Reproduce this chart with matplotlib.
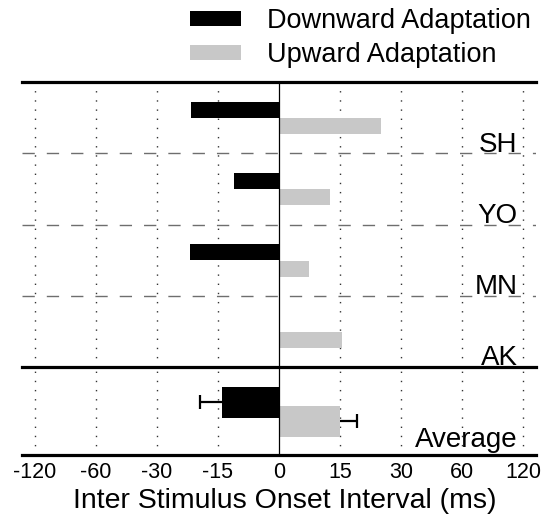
import numpy as np
import matplotlib
matplotlib.use("Agg")
import matplotlib.pyplot as plt
import matplotlib.transforms as mtransforms
from matplotlib.patches import Patch

plt.rcParams['font.family'] = ['Liberation Sans', 'DejaVu Sans']

# ---------------- data ----------------
subjects = ["SH", "YO", "MN", "AK"]
downward = [-21.6, -11.0, -21.8, 0.3]
upward = [25.0, 12.5, 7.5, 15.5]
avg_label = "Average"
avg_down = -13.9
avg_up = 14.9
avg_down_err = 5.6
avg_up_err = 4.2
tick_values = [-120, -60, -30, -15, 0, 15, 30, 60, 120]
tick_labels = ["-120", "-60", "-30", "-15", "0", "15", "30", "60", "120"]
legend_labels = ["Downward Adaptation", "Upward Adaptation"]
xlabel = "Inter Stimulus Onset Interval (ms)"

BLACK = "#000000"
GRAY = "#c8c8c8"

# piecewise-linear axis: ticks equally spaced
tv = np.array(tick_values, float)
ti = np.arange(len(tv)) - (len(tv) - 1) / 2.0


def fwd(x):
    x = np.asarray(x, float)
    y = np.interp(x, tv, ti)
    y = np.where(x > tv[-1], ti[-1] + (x - tv[-1]) / (tv[-1] - tv[-2]), y)
    y = np.where(x < tv[0], ti[0] + (x - tv[0]) / (tv[1] - tv[0]), y)
    return y


def inv(y):
    y = np.asarray(y, float)
    x = np.interp(y, ti, tv)
    x = np.where(y > ti[-1], tv[-1] + (y - ti[-1]) * (tv[-1] - tv[-2]), x)
    x = np.where(y < ti[0], tv[0] + (y - ti[0]) * (tv[1] - tv[0]), x)
    return x


W_PX, H_PX = 541, 521
fig = plt.figure(figsize=(W_PX / 100, H_PX / 100), dpi=100)

left_px, right_px = 22.4, 536.0
top_px, mid_px, bot_px = 82.3, 366.7, 455.0
L = left_px / W_PX
Wd = (right_px - left_px) / W_PX
ax_bot = fig.add_axes([L, 1 - bot_px / H_PX, Wd, (bot_px - mid_px) / H_PX])
ax_top = fig.add_axes([L, 1 - mid_px / H_PX, Wd, (mid_px - top_px) / H_PX])
ax_top.patch.set_visible(False)
ax_bot.patch.set_visible(False)

xlim = (float(inv(-4.2)), float(inv(4.21)))

for ax in (ax_top, ax_bot):
    ax.set_xscale('function', functions=(fwd, inv))
    ax.set_xlim(*xlim)
    ax.set_xticks(tick_values)
    for t in tick_values:
        if t != 0:
            ax.axvline(t, color="#333333", lw=1.0, dashes=(1.0, 5.6), zorder=1)
    ax.axvline(0, color="black", lw=0.9, zorder=3)
    ax.spines['left'].set_visible(False)
    ax.spines['right'].set_visible(False)
    ax.set_yticks([])
    ax.tick_params(axis='x', length=0, labelsize=15.5, pad=5)

# ---- top panel: individual subjects ----
n = len(subjects)
ax_top.set_ylim(n, 0)
idx = np.arange(n)
bh = 0.225
ax_top.barh(idx + 0.39, downward, height=bh, color=BLACK, zorder=2)
ax_top.barh(idx + 0.62, upward, height=bh, color=GRAY, zorder=2)
for k in range(1, n):
    ax_top.axhline(k, color="#6e6e6e", lw=1.0, dashes=(8.85, 8.65), zorder=1)
trans_top = mtransforms.blended_transform_factory(ax_top.transAxes, ax_top.transData)
for i, name in enumerate(subjects):
    ax_top.text(0.964, i + 1 - 0.025, name, transform=trans_top, ha='right',
                va='baseline', fontsize=20, zorder=4)
ax_top.tick_params(axis='x', labelbottom=False)
ax_top.spines['top'].set_linewidth(2.3)
ax_top.spines['bottom'].set_linewidth(2.3)

# ---- bottom panel: average ----
ax_bot.set_ylim(1, 0)
bh2 = 0.351
yd, yu = 0.403, 0.617
ax_bot.barh([yd], [avg_down], height=bh2, color=BLACK, zorder=2)
ax_bot.barh([yu], [avg_up], height=bh2, color=GRAY, zorder=2)
# one-sided error bars
ax_bot.hlines([yd], [avg_down - avg_down_err], [avg_down], color=BLACK, lw=1.6, zorder=3)
ax_bot.hlines([yu], [avg_up], [avg_up + avg_up_err], color=BLACK, lw=1.6, zorder=3)
ax_bot.plot([avg_down - avg_down_err, avg_up + avg_up_err], [yd, yu], ls='none',
            marker='|', ms=10.5, mew=1.6, color=BLACK, zorder=3)
ax_bot.text(0.964, 0.092, avg_label, transform=ax_bot.transAxes, ha='right',
            va='baseline', fontsize=20, zorder=4)
ax_bot.spines['top'].set_visible(False)
ax_bot.spines['bottom'].set_linewidth(2.3)
ax_bot.set_xticklabels(tick_labels)
ax_bot.set_xlabel(xlabel, fontsize=20.5, labelpad=4)
ax_bot.xaxis.label.set_x((285 - left_px) / (right_px - left_px))

# ---- legend ----
handles = [Patch(facecolor=BLACK, edgecolor='none'), Patch(facecolor=GRAY, edgecolor='none')]
fig.legend(handles, legend_labels, loc='upper left',
           bbox_to_anchor=(190 / W_PX, 1 - 8 / H_PX), frameon=False,
           fontsize=19.5, handlelength=1.88, handleheight=0.52,
           handletextpad=0.96, labelspacing=0.3, borderpad=0, borderaxespad=0)

fig.savefig("out.png", dpi=100)
